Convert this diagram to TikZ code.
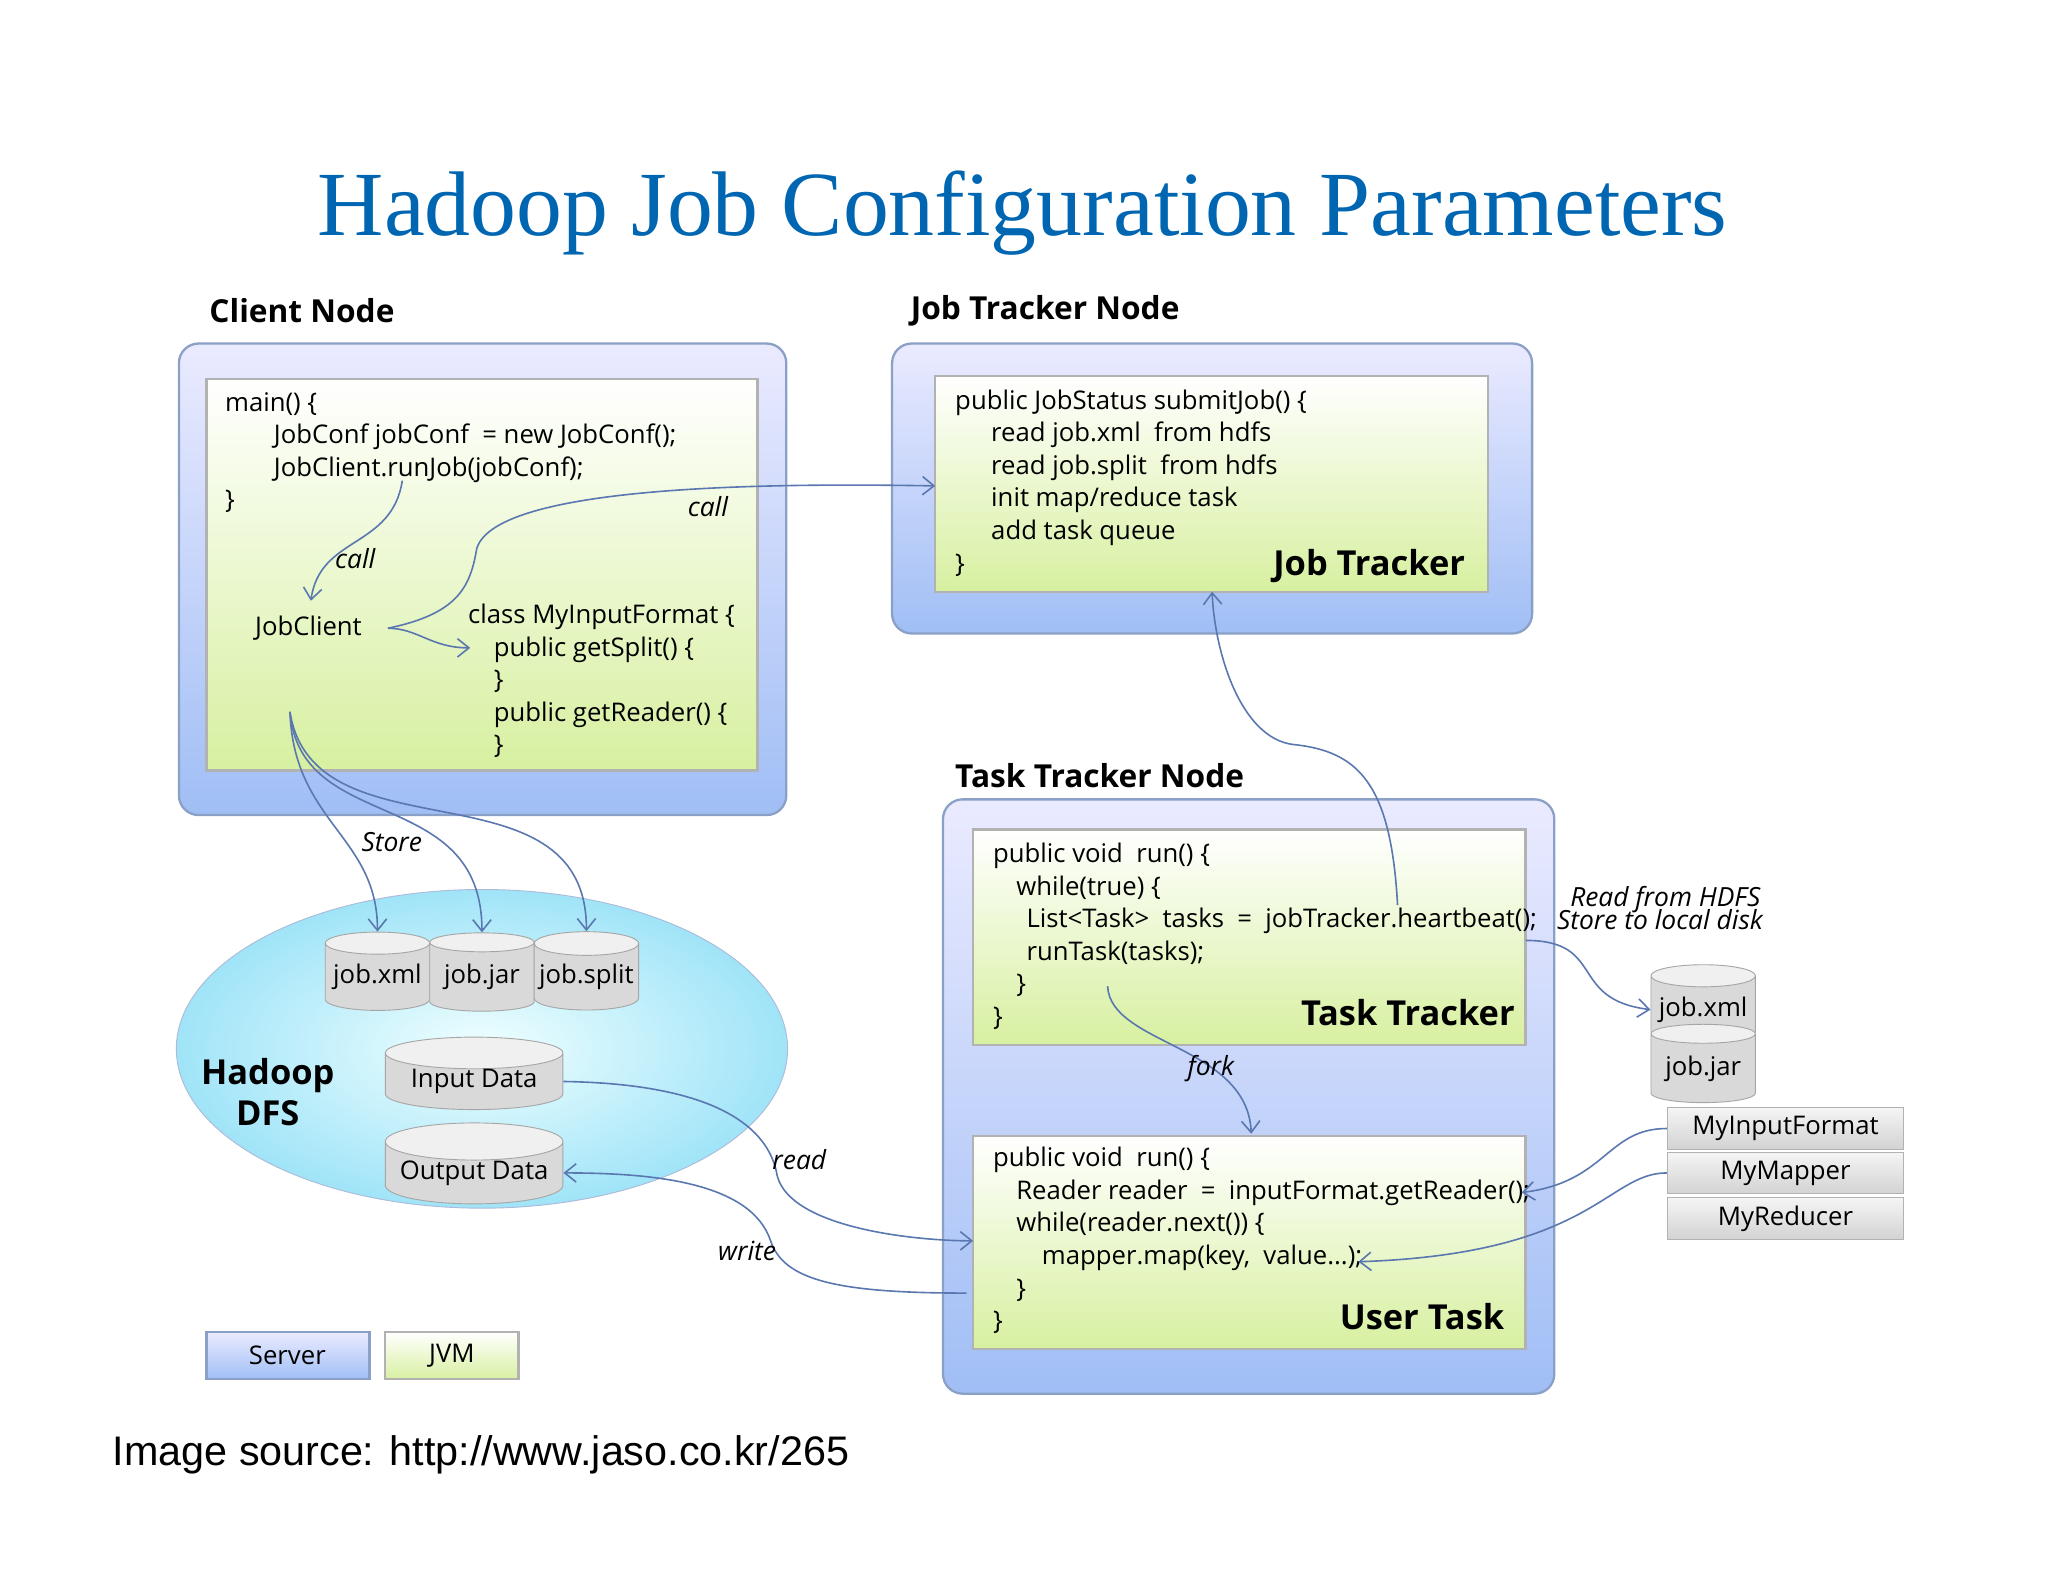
\documentclass[tikz,border=0pt]{standalone}
\usepackage{fontspec}
\setmainfont{Open Sans}
\newfontfamily\titlefont{Liberation Serif}
\newfontfamily\capfont{Liberation Sans}
\usetikzlibrary{shapes.geometric,arrows.meta}
\definecolor{arr}{RGB}{90,120,175}
\definecolor{ttl}{RGB}{0,102,178}
\tikzset{
 server/.style={draw=arr!70,rounded corners=0.3cm,top color=blue!8,bottom color={rgb,255:red,160;green,190;blue,245},line width=1pt},
 jvm/.style={draw=gray!60,top color=white,bottom color={rgb,255:red,215;green,240;blue,160},line width=1pt},
 code/.style={font=\fontsize{11.2}{14.2}\selectfont,align=left,anchor=north west,inner sep=0pt},
 hd/.style={font=\fontsize{13.8}{17}\selectfont\bfseries,inner sep=0pt},
 lbl/.style={font=\fontsize{11.5}{13}\selectfont\itshape,inner sep=1pt},
 ar/.style={draw=arr,line width=0.7pt,-{Straight Barb[length=5pt,width=8pt]}},
 cyl/.style={cylinder,shape border rotate=90,aspect=0.25,draw=gray!70,cylinder uses custom fill,cylinder body fill=gray!30,cylinder end fill=gray!12,minimum width=1.6cm,minimum height=1.2cm,font=\fontsize{11.2}{13}\selectfont,inner sep=0pt},
 gbox/.style={draw=gray!60,top color=gray!8,bottom color=gray!35,minimum width=3.62cm,minimum height=0.64cm,font=\fontsize{11.2}{13}\selectfont,inner sep=0pt}
}
\begin{document}
\begin{tikzpicture}[x=0.02cm,y=-0.02cm]
\useasboundingbox (0,0) rectangle (1568,1211);
\node[font=\titlefont\fontsize{40}{46}\selectfont,text=ttl] (title) at (783,163) {Hadoop Job Configuration Parameters};
% client
\node[hd,anchor=west] (cnl) at (160,238) {Client Node};
\path[server] (137,263) rectangle (602,624);
\path[jvm] (158,290) rectangle (580,590);
\node[code] (ccode) at (172,300) {main() \{\\\hspace*{1.9em}JobConf jobConf \ = new JobConf();\\\hspace*{1.9em}JobClient.runJob(jobConf);\\\}};
\node[code,anchor=west] (jc) at (195,481) {JobClient};
\node[code] (mif) at (358,462) {class MyInputFormat \{\\\hspace*{1em}public getSplit() \{\\\hspace*{1em}\}\\\hspace*{1em}public getReader() \{\\\hspace*{1em}\}};
% job tracker
\node[hd,anchor=west] (jtl) at (697,238) {Job Tracker Node};
\path[server] (683,263) rectangle (1173,485);
\path[jvm] (716,288) rectangle (1139,453);
\node[code] (jtc) at (731,298) {public JobStatus submitJob() \{\\\hspace*{1.4em}read job.xml \ from hdfs\\\hspace*{1.4em}read job.split \ from hdfs\\\hspace*{1.4em}init map/reduce task\\\hspace*{1.4em}add task queue\\\}};
\node[hd,anchor=east,font=\fontsize{15}{17}\selectfont\bfseries] (jtb) at (1122,433) {Job Tracker};
% task tracker
\node[hd,anchor=west] (ttl) at (731,594) {Task Tracker Node};
\path[server] (722,612) rectangle (1190,1067);
\path[jvm] (745,635) rectangle (1168,800);
\path[jvm] (745,870) rectangle (1168,1033);
\node[code] (ttc) at (760,645) {public void \ run() \{\\\hspace*{0.9em}while(true) \{\\\hspace*{1.3em}List<Task> \ tasks \ = \ jobTracker.heartbeat();\\\hspace*{1.3em}runTask(tasks);\\\hspace*{0.9em}\}\\\}};
\node[hd,anchor=east,font=\fontsize{15}{17}\selectfont\bfseries] (ttb) at (1160,775) {Task Tracker};
\node[code] (utc) at (760,878) {public void \ run() \{\\\hspace*{0.9em}Reader reader \ = \ inputFormat.getReader();\\\hspace*{0.9em}while(reader.next()) \{\\\hspace*{1.9em}mapper.map(key, \ value...);\\\hspace*{0.9em}\}\\\}};
\node[hd,anchor=east,font=\fontsize{15}{17}\selectfont\bfseries] (utb) at (1152,1008) {User Task};
% DFS
\shade[inner color=cyan!6,outer color={rgb,255:red,160;green,228;blue,248},draw=arr!50] (369,803) ellipse [x radius=234,y radius=122];
\node[hd,align=center,font=\fontsize{15}{18}\selectfont\bfseries] (dfs) at (205,836) {Hadoop\\DFS};
\node[cyl] (jx) at (289,748) {job.xml};
\node[cyl] (jj) at (369,748) {job.jar};
\node[cyl] (js) at (449,748) {job.split};
\node[cyl,minimum width=2.72cm,minimum height=1.1cm] (ind) at (363,828) {Input Data};
\node[cyl,minimum width=2.72cm,minimum height=1.1cm] (outd) at (363,898) {Output Data};
% right storage
\node[cyl] (rjx) at (1304,773) {job.xml};
\node[cyl] (rjj) at (1304,818) {job.jar};
\node[gbox] (mi) at (1367,864) {MyInputFormat};
\node[gbox] (mm) at (1367,898) {MyMapper};
\node[gbox] (mr) at (1367,933) {MyReducer};
% legend
\path[server,rounded corners=0pt] (158,1020) rectangle (283,1056);
\node[font=\fontsize{11.2}{13}\selectfont] (ls) at (220,1038) {Server};
\path[jvm] (295,1020) rectangle (397,1056);
\node[font=\fontsize{11.2}{13}\selectfont] (lj) at (346,1038) {JVM};
\node[font=\capfont\fontsize{18}{21}\selectfont,anchor=west,inner sep=0pt] (cap) at (86,1114) {Image source: http://www.jaso.co.kr/265};
% connectors
\coordinate (c1) at (308,368);
\coordinate (c2) at (238,460);
\draw[ar] (c1) .. controls (300,420) and (245,410) .. (c2);
\node[lbl] (l1) at (272,428) {call};
\coordinate (j1) at (297,481);
\coordinate (j2) at (360,496);
\draw[ar] (j1) .. controls (320,481) and (330,496) .. (j2);
\coordinate (j3) at (716,372);
\draw[ar] (j1) .. controls (350,470) and (360,450) .. (365,420) .. controls (380,370) and (600,370) .. (j3);
\node[lbl] (l2) at (542,388) {call};
\coordinate (s0) at (222,545);
\draw[ar] (s0) .. controls (225,630) and (289,640) .. (jx.north);
\draw[ar] (s0) .. controls (230,640) and (369,600) .. (jj.north);
\draw[ar] (s0) .. controls (240,660) and (449,580) .. (js.north);
\node[lbl] (l3) at (300,645) {Store};
\coordinate (r1) at (745,950);
\draw[ar] (ind.east) .. controls (560,830) and (590,870) .. (595,900) .. controls (605,940) and (700,950) .. (r1);
\node[lbl] (l4) at (612,888) {read};
\coordinate (w1) at (740,990);
\draw[ar] (w1) .. controls (640,990) and (600,980) .. (590,950) .. controls (575,905) and (500,898) .. (outd.east);
\node[lbl] (l5) at (572,958) {write};
\coordinate (h1) at (1070,693);
\draw[ar] (h1) .. controls (1065,600) and (1040,575) .. (990,570) .. controls (950,565) and (930,500) .. (928,453);
\coordinate (f1) at (848,755);
\coordinate (f2) at (958,868);
\draw[ar] (f1) .. controls (850,800) and (955,800) .. (f2);
\node[lbl] (l6) at (927,818) {fork};
\coordinate (d1) at (1168,720);
\draw[ar] (d1) .. controls (1230,720) and (1200,765) .. (rjx.west);
\node[lbl,align=left,anchor=west] (l7) at (1190,695) {\hspace*{0.5em}Read from HDFS\\[-3pt]Store to local disk};
\coordinate (m1) at (1165,913);
\draw[ar] (mi.west) .. controls (1230,864) and (1230,905) .. (m1);
\coordinate (m2) at (1040,966);
\draw[ar] (mm.west) .. controls (1230,898) and (1220,960) .. (m2);
\end{tikzpicture}
\end{document}
